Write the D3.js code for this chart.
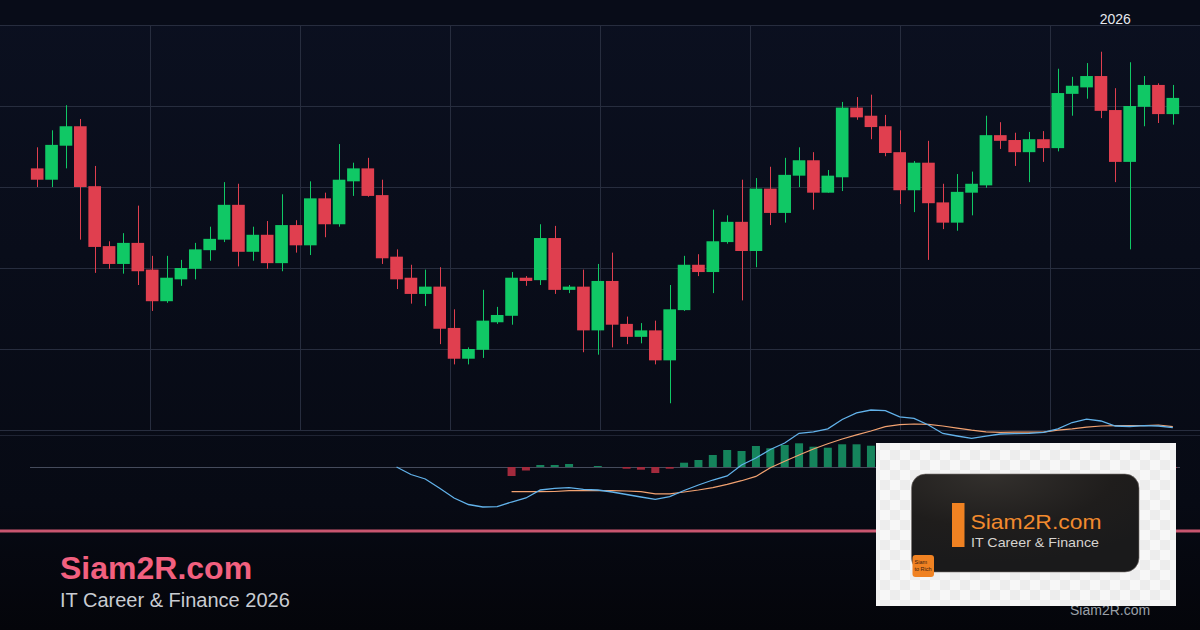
<!DOCTYPE html>
<html><head><meta charset="utf-8">
<script src="https://cdn.jsdelivr.net/npm/d3@7"></script>
<style>html,body{margin:0;padding:0;background:#070a14;}svg{display:block;}</style>
</head><body>
<svg id="c" width="1200" height="630"></svg>
<script>
// ---- data ----
const categories = d3.range(80); // candle sequence index
const opens  = [82.3,80.9,85.1,87.5,80.1,72.7,70.5,73.1,69.8,65.9,68.6,69.9,72.2,73.5,77.8,72.0,74.1,70.6,75.3,72.8,78.6,75.4,80.7,82.3,79.0,71.4,68.8,66.8,67.7,62.6,58.8,59.9,63.3,64.1,68.8,68.5,73.7,67.3,67.7,62.3,68.4,63.1,61.5,62.3,58.6,64.8,70.4,69.5,73.2,75.7,72.1,79.8,76.8,81.4,83.3,79.3,81.2,89.8,88.8,87.5,84.3,79.6,83.0,78.1,75.6,79.3,80.2,86.4,85.8,84.3,85.9,84.8,91.5,92.3,93.7,89.5,83.1,89.9,92.6,89.0];
const highs  = [84.9,87.0,90.1,88.4,82.6,73.3,74.3,77.7,71.5,71.5,71.0,73.1,75.1,80.6,80.4,75.1,75.8,79.1,75.9,80.7,79.3,85.3,83.0,83.6,80.9,72.3,70.4,69.8,70.1,64.9,60.2,67.3,65.2,69.5,69.0,75.4,75.2,67.9,69.8,70.5,71.9,64.0,63.2,63.5,67.9,71.5,71.7,77.2,76.5,80.9,81.1,82.5,83.6,84.9,84.3,82.1,90.5,91.1,91.4,88.9,87.0,83.2,85.7,80.4,81.6,81.9,88.8,88.0,86.7,86.8,86.9,94.6,93.6,95.3,96.7,92.2,95.4,93.7,92.8,92.6];
const lows   = [80.0,80.0,82.3,73.5,69.4,69.9,69.3,67.9,64.7,65.7,67.8,68.6,70.9,73.2,70.2,70.9,69.9,69.6,71.9,71.6,73.8,75.1,78.9,78.8,70.5,67.4,65.6,65.3,60.6,58.1,58.1,58.9,63.1,63.0,67.8,67.9,66.8,66.9,59.6,59.3,60.2,60.6,60.7,58.1,53.3,64.7,69.0,66.9,73.0,66.0,70.1,75.3,75.6,80.0,77.2,79.3,79.5,88.3,85.9,83.8,77.9,76.9,71.0,74.8,74.6,76.5,79.9,84.7,82.6,80.6,83.1,84.4,88.8,90.9,88.5,80.6,72.3,87.5,87.9,87.7];
const closes = [80.9,85.2,87.5,80.0,72.6,70.5,73.1,69.6,65.9,68.8,70.0,72.3,73.6,77.8,72.0,74.1,70.6,75.3,72.8,78.6,75.4,80.9,82.3,78.9,71.2,68.6,66.8,67.7,62.5,58.8,60.0,63.5,64.2,68.8,68.4,73.7,67.3,67.7,62.3,68.4,63.0,61.5,62.3,58.6,64.9,70.4,69.5,73.3,75.7,72.1,79.8,76.8,81.5,83.3,79.3,81.4,89.8,88.6,87.4,84.2,79.6,83.0,78.0,75.6,79.4,80.4,86.4,85.7,84.3,85.9,84.8,91.6,92.5,93.7,89.4,83.1,90.0,92.6,89.0,91.0];
const macdStart = 25;
const macdLine = [0.0,-0.75,-1.2,-2.13,-3.1,-3.75,-4.0,-3.97,-3.5,-3.1,-2.3,-2.13,-2.07,-2.23,-2.3,-2.5,-2.75,-3.0,-3.23,-2.97,-2.35,-1.8,-1.3,-0.9,0.2,0.9,1.75,2.4,3.37,3.52,3.82,4.75,5.42,5.7,5.63,5.02,4.87,4.2,3.35,3.1,2.87,3.08,3.3,3.34,3.37,3.47,3.82,4.45,4.78,4.6,4.1,4.05,4.13,4.1,3.93];
const signalStart = 33;
const signalLine = [-2.47,-2.47,-2.47,-2.45,-2.37,-2.36,-2.36,-2.37,-2.4,-2.47,-2.68,-2.68,-2.5,-2.3,-2.06,-1.74,-1.37,-0.94,-0.07,0.58,1.2,1.8,2.32,2.8,3.22,3.6,4.04,4.23,4.3,4.27,4.1,3.88,3.68,3.52,3.47,3.49,3.49,3.49,3.68,3.81,3.98,4.1,4.13,4.13,4.13,4.2,4.03];
const histogram = [-0.9,-0.35,0.2,0.2,0.3,0.0,0.1,0.0,-0.17,-0.27,-0.6,-0.17,0.43,0.7,1.2,1.7,1.6,2.1,1.87,2.2,2.37,2.03,1.93,2.27,2.27,2.13,1.6,0.8,0.57,-0.07,-0.75,-0.78,-0.81,-0.44,-0.17,-0.15,-0.12,-0.02,0.14,0.64,0.8,0.5,-0.03,-0.08,0.0,-0.1,-0.1];
const priceTicks = [50,60,70,80,90,100];
const timeLabels = [{index:75, text:"2026"}];
const titleText = "Siam2R.com";
const subtitleText = "IT Career & Finance 2026";

// ---- drawing ----
const svg = d3.select("#c");
const W = 1200, H = 630;
const defs = svg.append("defs");
const bg = defs.append("linearGradient").attr("id","bg").attr("x1",0).attr("y1",0).attr("x2",0).attr("y2",1);
bg.append("stop").attr("offset","0%").attr("stop-color","#0b1020");
bg.append("stop").attr("offset","80%").attr("stop-color","#070a14");
bg.append("stop").attr("offset","100%").attr("stop-color","#04050a");
svg.append("rect").attr("width",W).attr("height",H).attr("fill","url(#bg)");
svg.append("rect").attr("width",W).attr("height",25).attr("fill","#080c18");

const x = d3.scaleBand().domain(categories).range([30,1180]).paddingInner(0.12).paddingOuter(0.06);
const cx = i => x(i) + x.bandwidth()/2;
const y = d3.scaleLinear().domain([50,100]).range([430,25]);
const ym = d3.scaleLinear().domain([-5,5]).range([517,417]);

const gridColor = "#272d3e";
svg.append("g").selectAll("line").data(priceTicks).join("line")
  .attr("x1",0).attr("x2",W).attr("y1",d=>y(d)+0.5).attr("y2",d=>y(d)+0.5)
  .attr("stroke",gridColor).attr("stroke-width",1);
svg.append("g").selectAll("line").data(d3.range(150,1200,150)).join("line")
  .attr("x1",d=>d+0.5).attr("x2",d=>d+0.5).attr("y1",y(100)).attr("y2",y(50))
  .attr("stroke",gridColor).attr("stroke-width",1);
svg.append("line").attr("x1",0).attr("x2",W).attr("y1",435.5).attr("y2",435.5).attr("stroke","#1f2433");

svg.append("g").selectAll("text").data(timeLabels).join("text")
  .attr("x",d=>cx(d.index)).attr("y",24).attr("text-anchor","middle")
  .attr("font-family","Liberation Sans, Arial, sans-serif").attr("font-size",14).attr("fill","#e6e8ee")
  .text(d=>d.text);

const up = "#10c865", down = "#e03f4f";
const candles = categories.map(i => ({i, o:opens[i], h:highs[i], l:lows[i], c:closes[i]}));
const cg = svg.append("g");
cg.selectAll("line").data(candles).join("line")
  .attr("x1",d=>Math.round(cx(d.i))+0.5).attr("x2",d=>Math.round(cx(d.i))+0.5)
  .attr("y1",d=>y(d.h)).attr("y2",d=>y(d.l))
  .attr("stroke",d=>d.c>=d.o?up:down).attr("stroke-width",1);
cg.selectAll("rect").data(candles).join("rect")
  .attr("x",d=>x(d.i)).attr("width",x.bandwidth())
  .attr("y",d=>y(Math.max(d.o,d.c))).attr("height",d=>Math.max(1.5,Math.abs(y(d.o)-y(d.c))))
  .attr("fill",d=>d.c>=d.o?up:down);

svg.append("line").attr("x1",30).attr("x2",1180).attr("y1",ym(0)+0.5).attr("y2",ym(0)+0.5)
  .attr("stroke","#454b5c").attr("stroke-width",1);
const hb = 8;
svg.append("g").selectAll("rect").data(histogram.map((v,k)=>({i:signalStart+k,v})).filter(d=>d.v!==0)).join("rect")
  .attr("x",d=>cx(d.i)-hb/2).attr("width",hb)
  .attr("y",d=>Math.min(ym(d.v),ym(0))).attr("height",d=>Math.abs(ym(d.v)-ym(0)))
  .attr("fill",d=>d.v>=0?"#15845c":"#a32a3d");
const line = d3.line().x(d=>cx(d.i)).y(d=>ym(d.v));
svg.append("path").datum(signalLine.map((v,k)=>({i:signalStart+k,v})))
  .attr("d",line).attr("fill","none").attr("stroke","#f2a271").attr("stroke-width",1.2);
svg.append("path").datum(macdLine.map((v,k)=>({i:macdStart+k,v})))
  .attr("d",line).attr("fill","none").attr("stroke","#62b2ea").attr("stroke-width",1.3);

svg.append("rect").attr("x",0).attr("y",529.5).attr("width",W).attr("height",3).attr("fill","#c9566f");

svg.append("text").attr("x",60).attr("y",579).attr("font-family","Liberation Sans, Arial, sans-serif")
  .attr("font-weight","bold").attr("font-size",32).attr("fill","#f2607f").text(titleText);
svg.append("text").attr("x",60).attr("y",607).attr("font-family","Liberation Sans, Arial, sans-serif")
  .attr("font-size",20).attr("fill","#c9ccd2").text(subtitleText);

svg.append("text").attr("x",1070).attr("y",615).attr("font-family","Liberation Sans, Arial, sans-serif")
  .attr("font-size",14).attr("fill","#9aa0a8").text("Siam2R.com");

// logo box
const pat = defs.append("pattern").attr("id","chk").attr("patternUnits","userSpaceOnUse").attr("width",20).attr("height",20);
pat.append("rect").attr("width",20).attr("height",20).attr("fill","#f7f7f7");
pat.append("rect").attr("width",10).attr("height",10).attr("fill","#ededed");
pat.append("rect").attr("x",10).attr("y",10).attr("width",10).attr("height",10).attr("fill","#ededed");
svg.append("rect").attr("x",876).attr("y",443).attr("width",300).attr("height",163).attr("fill","url(#chk)");
const lg = defs.append("radialGradient").attr("id","lg").attr("cx","35%").attr("cy","0%").attr("r","90%");
lg.append("stop").attr("offset","0%").attr("stop-color","#33302d");
lg.append("stop").attr("offset","60%").attr("stop-color","#1f1d1c");
lg.append("stop").attr("offset","100%").attr("stop-color","#1a1a1b");
svg.append("rect").attr("x",911.5).attr("y",474).attr("width",227.5).attr("height",98).attr("rx",14)
  .attr("fill","url(#lg)").attr("stroke","#7a7470").attr("stroke-width",0.6);
svg.append("rect").attr("x",952).attr("y",503).attr("width",12.5).attr("height",44).attr("fill","#f08222");
svg.append("text").attr("x",970.5).attr("y",528.5).attr("font-family","Liberation Sans, sans-serif")
  .attr("font-size",21).attr("fill","#f28a2e").attr("textLength",131).attr("lengthAdjust","spacingAndGlyphs").text("Siam2R.com");
svg.append("text").attr("x",971).attr("y",546.5).attr("font-family","Liberation Sans, sans-serif")
  .attr("font-size",13.5).attr("fill","#d6d3cf").attr("textLength",128).attr("lengthAdjust","spacingAndGlyphs").text("IT Career & Finance");
svg.append("rect").attr("x",912.5).attr("y",555).attr("width",21.5).attr("height",22).attr("rx",3).attr("fill","#f08222");
svg.append("text").attr("x",914.5).attr("y",564).attr("font-family","Liberation Sans, sans-serif").attr("font-size",5.5).attr("fill","#3a2010").text("Siam");
svg.append("text").attr("x",914.5).attr("y",570.5).attr("font-family","Liberation Sans, sans-serif").attr("font-size",5.5).attr("fill","#3a2010").text("to Rich");
</script>
</body></html>
